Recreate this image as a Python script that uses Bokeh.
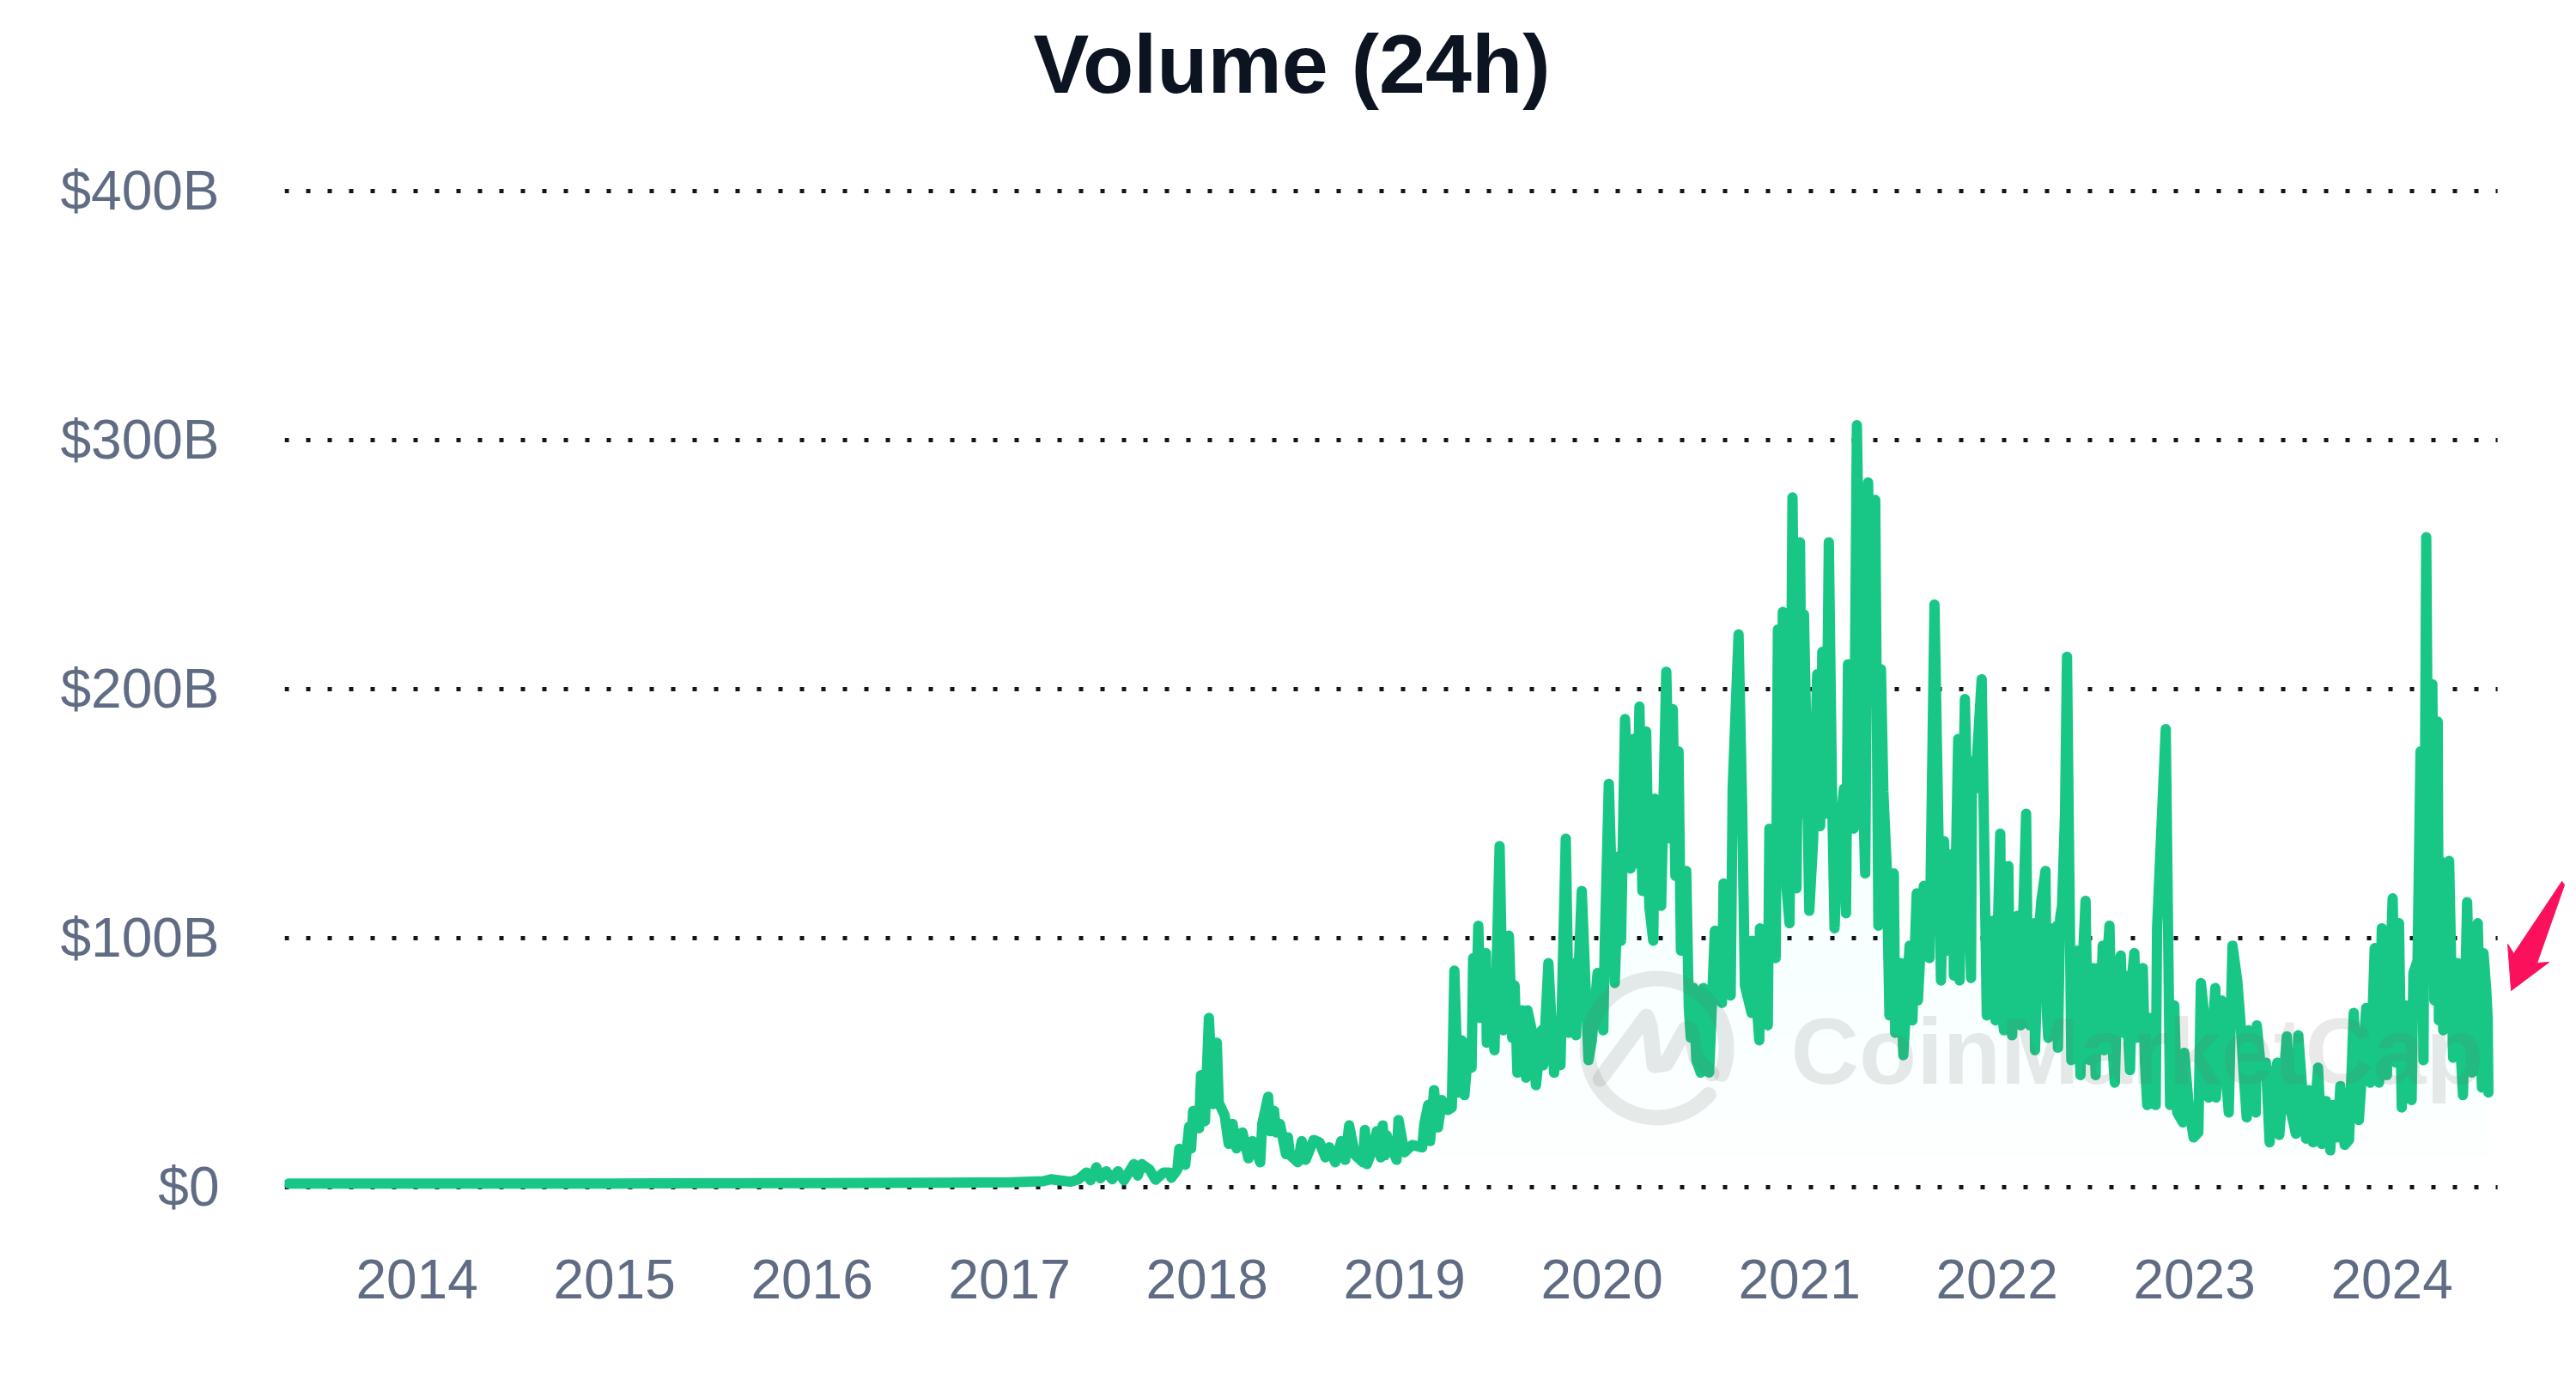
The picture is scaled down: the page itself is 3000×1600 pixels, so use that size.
import numpy as np

from bokeh.embed import file_html
from bokeh.models import FixedTicker, Label, Range1d
from bokeh.plotting import figure
from bokeh.resources import INLINE

GREEN = '#18c785'
GREY = '#5f6c83'

years = [2014, 2015, 2016, 2017, 2018, 2019, 2020, 2021, 2022, 2023, 2024]
volume_ticks = [0, 100, 200, 300, 400]
volume_labels = ['$0', '$100B', '$200B', '$300B', '$400B']

# dates are decimal years, volumes in $B
t_early = [2013.35, 2014.0, 2015.0, 2016.0, 2016.67]
v_early = [1.5, 1.5, 1.5, 1.6, 1.8]

t_2017 = [2017.01, 2017.17, 2017.21, 2017.27, 2017.31, 2017.35, 2017.39, 2017.41, 2017.44, 2017.46,
          2017.49, 2017.52, 2017.55, 2017.58, 2017.63, 2017.65, 2017.67, 2017.71, 2017.74, 2017.78,
          2017.81, 2017.82, 2017.85, 2017.86, 2017.89, 2017.91, 2017.92, 2017.93, 2017.96, 2017.97,
          2017.99]
v_2017 = [2, 2.4, 3.2, 2.6, 2.2, 3.2, 5.9, 2.8, 8, 3.6,
          6.4, 3.2, 6.4, 2.8, 9.3, 4.7, 9.3, 7, 3, 5.9,
          5.9, 3.8, 7, 15.4, 9, 24.3, 15.6, 30.6, 23.7, 45,
          26.5]

t_2018 = [2018.01, 2018.03, 2018.05, 2018.06, 2018.09, 2018.11, 2018.13, 2018.15, 2018.18, 2018.21,
          2018.23, 2018.27, 2018.28, 2018.31, 2018.32, 2018.34, 2018.35, 2018.37, 2018.40, 2018.41,
          2018.42, 2018.46, 2018.48, 2018.50, 2018.54, 2018.57, 2018.60, 2018.62, 2018.65, 2018.68,
          2018.70, 2018.72, 2018.75, 2018.79, 2018.80, 2018.81, 2018.84, 2018.86, 2018.88, 2018.89,
          2018.90, 2018.91, 2018.96, 2018.97]
v_2018 = [68, 33.4, 58, 34, 28.8, 17.4, 25.4, 15.6, 22, 11.6,
          18.5, 10, 25.4, 36.3, 22.5, 30.6, 22, 25.4, 13.3, 20,
          13, 10, 18.5, 11, 19, 18, 12, 16, 10, 18.5,
          11, 24.8, 13, 10, 23, 9.3, 15.6, 22.5, 12, 24.8,
          12.8, 20.8, 11, 27]

t_2019 = [2019.00, 2019.04, 2019.09, 2019.10, 2019.12, 2019.13, 2019.15, 2019.17, 2019.19, 2019.22,
          2019.24, 2019.253, 2019.272, 2019.29, 2019.304, 2019.326, 2019.34, 2019.348, 2019.362, 2019.374,
          2019.387, 2019.413, 2019.417, 2019.427, 2019.456, 2019.482, 2019.50, 2019.529, 2019.546, 2019.558,
          2019.572, 2019.594, 2019.616, 2019.623, 2019.645, 2019.666, 2019.695, 2019.703, 2019.729, 2019.758,
          2019.775, 2019.79, 2019.817, 2019.833, 2019.859, 2019.869, 2019.898, 2019.932, 2019.949, 2019.978]
v_2019 = [14, 17, 16, 25, 33, 18.5, 39, 24, 35, 31,
          32, 87, 38, 59, 37, 58, 48, 92, 68, 105,
          68, 94, 58, 86, 55, 137, 63, 101, 60, 81,
          46, 71, 44, 71, 63, 41, 63, 49, 90, 46,
          61, 49, 140, 62, 90, 61, 119, 51, 59, 86]

t_2020 = [2020.007, 2020.014, 2020.035, 2020.065, 2020.087, 2020.097, 2020.117, 2020.145, 2020.159, 2020.175,
          2020.19, 2020.205, 2020.224, 2020.24, 2020.26, 2020.268, 2020.30, 2020.326, 2020.345, 2020.359,
          2020.372, 2020.388, 2020.40, 2020.427, 2020.44, 2020.45, 2020.464, 2020.478, 2020.50, 2020.514,
          2020.543, 2020.572, 2020.608, 2020.616, 2020.652, 2020.662, 2020.692, 2020.71, 2020.724, 2020.758,
          2020.76, 2020.797, 2020.80, 2020.84, 2020.848, 2020.88, 2020.891, 2020.905, 2020.916, 2020.935,
          2020.95, 2020.965, 2020.985]
v_2020 = [63, 96, 162, 82, 133, 99, 188, 128, 180, 130,
          193, 119, 183, 113, 99, 156, 113, 207, 140, 192,
          125, 175, 95, 127, 72, 60, 80, 51, 46, 80,
          46, 103, 74, 122, 77, 160, 222, 153, 81, 70,
          99, 59, 104, 65, 144, 92, 224, 150, 231, 120,
          106, 277, 120]

t_2021 = [2021.003, 2021.015, 2021.023, 2021.035, 2021.05, 2021.07, 2021.09, 2021.105, 2021.116, 2021.135,
          2021.149, 2021.165, 2021.178, 2021.20, 2021.212, 2021.225, 2021.236, 2021.246, 2021.275, 2021.291,
          2021.315, 2021.333, 2021.348, 2021.365, 2021.384, 2021.40, 2021.413, 2021.425, 2021.442, 2021.456,
          2021.478, 2021.485, 2021.514, 2021.526, 2021.558, 2021.572, 2021.594, 2021.60, 2021.63, 2021.659,
          2021.684, 2021.717, 2021.732, 2021.755, 2021.778, 2021.782, 2021.804, 2021.811, 2021.838, 2021.869,
          2021.874, 2021.89, 2021.923, 2021.949, 2021.978, 2021.993]
v_2021 = [259, 150, 230, 182, 111, 140, 206, 145, 215, 150,
          259, 160, 104, 152, 148, 160, 110, 210, 144, 306,
          180, 126, 283, 200, 276, 105, 208, 159, 129, 69,
          126, 62, 90, 53, 97, 67, 118, 75, 121, 92,
          234, 83, 139, 95, 134, 85, 180, 83, 196, 84,
          171, 160, 204, 69, 107, 67]

t_2022 = [2022.017, 2022.026, 2022.036, 2022.047, 2022.058, 2022.067, 2022.077, 2022.09, 2022.106, 2022.12,
          2022.133, 2022.148, 2022.158, 2022.167, 2022.178, 2022.188, 2022.193, 2022.21, 2022.225, 2022.246,
          2022.253, 2022.26, 2022.272, 2022.282, 2022.295, 2022.304, 2022.309, 2022.32, 2022.33, 2022.345,
          2022.355, 2022.377, 2022.384, 2022.396, 2022.406, 2022.423, 2022.435, 2022.449, 2022.46, 2022.471,
          2022.485, 2022.50, 2022.507, 2022.522, 2022.536, 2022.543, 2022.556, 2022.57, 2022.583, 2022.597,
          2022.612, 2022.627, 2022.64, 2022.65, 2022.674, 2022.685, 2022.696, 2022.708, 2022.72, 2022.739,
          2022.75, 2022.761, 2022.775, 2022.79, 2022.804, 2022.811, 2022.855, 2022.877, 2022.898, 2022.913,
          2022.942, 2022.949, 2022.971, 2022.996]
v_2022 = [142, 70, 63, 105, 129, 70, 61, 106, 109, 65,
          108, 150, 70, 65, 105, 106, 55, 100, 115, 127,
          70, 60, 104, 103, 62, 105, 56, 108, 113, 150,
          213, 51, 95, 60, 95, 45, 90, 115, 60, 51,
          88, 45, 88, 60, 97, 55, 88, 105, 60, 42,
          85, 93, 62, 85, 47, 85, 94, 60, 85, 88,
          50, 33, 68, 52, 33, 104, 184, 33, 73, 30,
          26, 54, 33, 20]

t_2023 = [2023.02, 2023.033, 2023.058, 2023.072, 2023.106, 2023.109, 2023.138, 2023.155, 2023.174, 2023.185,
          2023.193, 2023.217, 2023.232, 2023.25, 2023.265, 2023.275, 2023.293, 2023.311, 2023.316, 2023.34,
          2023.362, 2023.381, 2023.40, 2023.42, 2023.43, 2023.468, 2023.49, 2023.514, 2023.526, 2023.565,
          2023.58, 2023.60, 2023.626, 2023.645, 2023.667, 2023.688, 2023.70, 2023.725, 2023.739, 2023.761,
          2023.783, 2023.807, 2023.833, 2023.87, 2023.891, 2023.913, 2023.935, 2023.949, 2023.975]
v_2023 = [22, 82, 63, 36, 80, 36, 75, 50, 30, 70,
          97, 83, 68, 45, 28, 63, 40, 30, 65, 45,
          50, 18, 42, 50, 21, 60.5, 30, 21.5, 61, 19.5,
          39, 18, 48, 17.4, 34.6, 14.8, 33, 20, 40.6, 17,
          19, 70, 27, 72, 42, 96, 42, 104, 45]

t_2024 = [2024.004, 2024.02, 2024.036, 2024.05, 2024.07, 2024.10, 2024.109, 2024.13, 2024.145, 2024.16,
          2024.174, 2024.189, 2024.205, 2024.215, 2024.232, 2024.238, 2024.246, 2024.26, 2024.29, 2024.31,
          2024.333, 2024.345, 2024.36, 2024.381, 2024.395, 2024.406, 2024.42, 2024.435, 2024.445, 2024.456,
          2024.464, 2024.478, 2024.485, 2024.489]
v_2024 = [116, 50, 106, 32, 73, 35, 86, 91, 175, 51,
          261, 89, 202, 75, 187, 67, 131, 63, 131, 52,
          90, 60, 37, 114.5, 70, 46, 70, 106, 70, 40,
          94, 79, 68, 38]

dates = np.array(t_early + t_2017 + t_2018 + t_2019 + t_2020 + t_2021 + t_2022 + t_2023 + t_2024)
volume = np.array(v_early + v_2017 + v_2018 + v_2019 + v_2020 + v_2021 + v_2022 + v_2023 + v_2024)

# the frame fills the top and right of the page so title and pointer can sit inside it
p = figure(width=2990, height=1590, output_backend='svg', toolbar_location=None,
           x_range=Range1d(2013.33, 2024.891), y_range=Range1d(-20, 476.55),
           min_border_left=331, min_border_right=0, min_border_top=0, min_border_bottom=150)
p.outline_line_color = None
p.background_fill_color = 'white'

p.grid.visible = False
p.xaxis.ticker = FixedTicker(ticks=years)
p.xaxis.major_label_overrides = {y: str(y) for y in years}
p.yaxis.ticker = FixedTicker(ticks=volume_ticks)
p.yaxis.major_label_overrides = dict(zip(volume_ticks, volume_labels))
for axis in (p.xaxis[0], p.yaxis[0]):
    axis.axis_line_color = None
    axis.major_tick_line_color = None
    axis.minor_tick_line_color = None
    axis.major_label_text_font = 'Liberation Sans'
    axis.major_label_text_font_size = '64px'
    axis.major_label_text_color = GREY
p.xaxis.major_label_standoff = 20
p.yaxis.major_label_standoff = 70

# dotted gridlines stop before the pointer
for tick in volume_ticks:
    p.line([2013.33, 2024.535], [tick, tick], line_color='#11151c', line_width=5, line_dash=[5, 20])

# pale fill under the line, stronger towards the top
for level in [0, 12, 24, 36, 48, 60, 75, 90]:
    p.varea(dates, level, np.maximum(volume, level), fill_color=GREEN, fill_alpha=0.004)

p.line(dates, volume, line_color=GREEN, line_width=12, line_join='round', line_cap='round')


# title, watermark and pointer, placed by picture position
def x_at(px):
    return 2014 + (np.asarray(px, dtype=float) - 485) / 230


def y_at(py):
    return (1382 - np.asarray(py, dtype=float)) / 2.9


p.add_layout(Label(x=float(x_at(1203)), y=float(y_at(74)), text='Volume (24h)', text_baseline='alphabetic',
                   text_font='Liberation Sans', text_font_style='bold', text_font_size='97px',
                   text_color='#0d1421'))

angles = np.radians(np.linspace(-42, -382, 90))
p.line(x_at(1929 + 81 * np.cos(angles)), y_at(1220 - 81 * np.sin(angles)), line_color='#646c68',
       line_alpha=0.15, line_width=18, line_cap='round', line_join='round')
p.line(x_at([1863, 1908, 1917, 1921, 1926, 1940, 1962, 1968, 1975, 1993]),
       y_at([1256, 1195, 1183, 1195, 1240, 1238, 1198, 1198, 1232, 1250]), line_color='#646c68',
       line_alpha=0.15, line_width=18, line_cap='round', line_join='round')
p.add_layout(Label(x=float(x_at(2085)), y=float(y_at(1223)), text='CoinMarketCap', text_baseline='alphabetic',
                   text_font='Liberation Sans', text_font_style='bold', text_font_size='110px',
                   text_color='#646c68', text_alpha=0.15))

p.patch(x_at([2983, 2927, 2920, 2924, 2968, 2954, 2986]), y_at([1026, 1110, 1099, 1153, 1120, 1121, 1030]),
        fill_color='#fb105c', line_color='#fb105c', line_width=1)

open('out.html', 'w').write(file_html(p, INLINE))
